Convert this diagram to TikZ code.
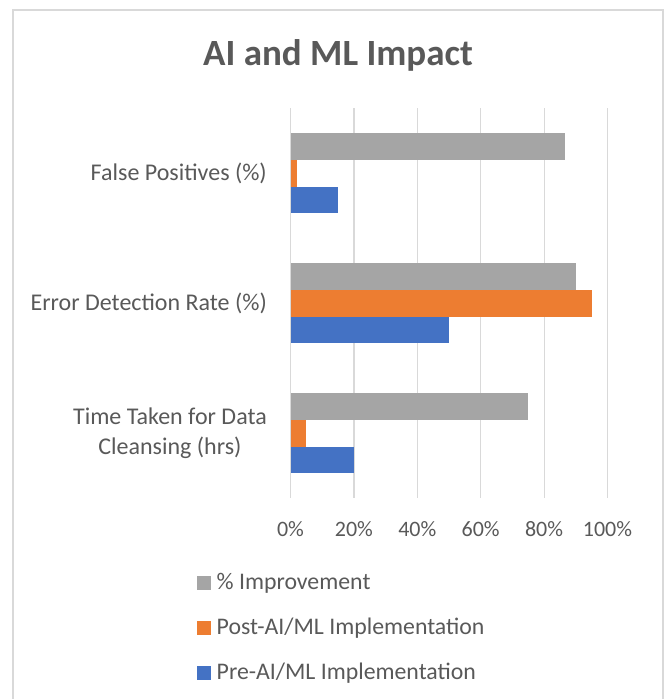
\documentclass[tikz,border=0pt]{standalone}
\usepackage{fontspec}
\setmainfont{Carlito}
\definecolor{impgray}{HTML}{A5A5A5}
\definecolor{postorange}{HTML}{ED7D31}
\definecolor{preblue}{HTML}{4472C4}
\definecolor{txtgray}{HTML}{595959}
\definecolor{gridgray}{HTML}{D9D9D9}
\tikzset{
  catlabel/.style={anchor=east, text=txtgray, align=center, inner sep=0pt,
    font=\fontsize{24}{30}\selectfont},
  ticklabel/.style={anchor=base, text=txtgray, inner sep=0pt,
    font=\fontsize{22}{26}\selectfont},
  legtext/.style={anchor=west, text=txtgray, inner sep=0pt,
    font=\fontsize{23.8}{28}\selectfont},
  legkey/.style={minimum size=14pt, inner sep=0pt, draw=none}
}
\begin{document}
\begin{tikzpicture}[x=1pt,y=-1pt]
        \useasboundingbox (0,0) rectangle (670,699);

        % Frame
        \draw[gridgray, line width=1.5pt] (13,699) -- (13,10) -- (663,10) -- (663,699);

        % Title
        \node[text=txtgray, anchor=base, inner sep=0pt, font=\bfseries\fontsize{37}{44}\selectfont] (title) at (338,65) {AI and ML Impact};

        % Gridlines and ticks
        \foreach \i in {0,...,5} {
            \draw[gridgray, line width=1.2pt] (290.5+63.4*\i,108) -- (290.5+63.4*\i,498);
            \pgfmathtruncatemacro{\val}{20*\i}
            \node[ticklabel] (tick\i) at (290.5+63.4*\i,536.5) {\val\%};
        }

        % Bars: group, offset, value, colour
        \foreach \g/\o/\v/\c in {0/0/86.67/impgray, 0/1/2/postorange, 0/2/15/preblue,
                                 1/0/90/impgray, 1/1/95/postorange, 1/2/50/preblue,
                                 2/0/75/impgray, 2/1/5/postorange, 2/2/20/preblue} {
            \fill[\c] (290.5,133.3+130*\g+26.67*\o) rectangle (290.5+3.17*\v,133.3+130*\g+26.67*\o+26.67);
        }

        % Category labels
        \node[catlabel] (fp) at (267,173.3) {False Positives (\%)};
        \node[catlabel] (edr) at (267,303.3) {Error Detection Rate (\%)};
        \node[catlabel] (tt) at (267,433.3) {Time Taken for Data\\Cleansing (hrs)};

        % Legend
        \node[legkey, fill=impgray] (keyimp) at (204,583) {};
        \node[legtext] (legimp) at (216.5,583) {\% Improvement};
        \node[legkey, fill=postorange] (keypost) at (204,628) {};
        \node[legtext] (legpost) at (216.5,628) {Post-AI/ML Implementation};
        \node[legkey, fill=preblue] (keypre) at (204,673) {};
        \node[legtext] (legpre) at (216.5,673) {Pre-AI/ML Implementation};
    \end{tikzpicture}
\end{document}
